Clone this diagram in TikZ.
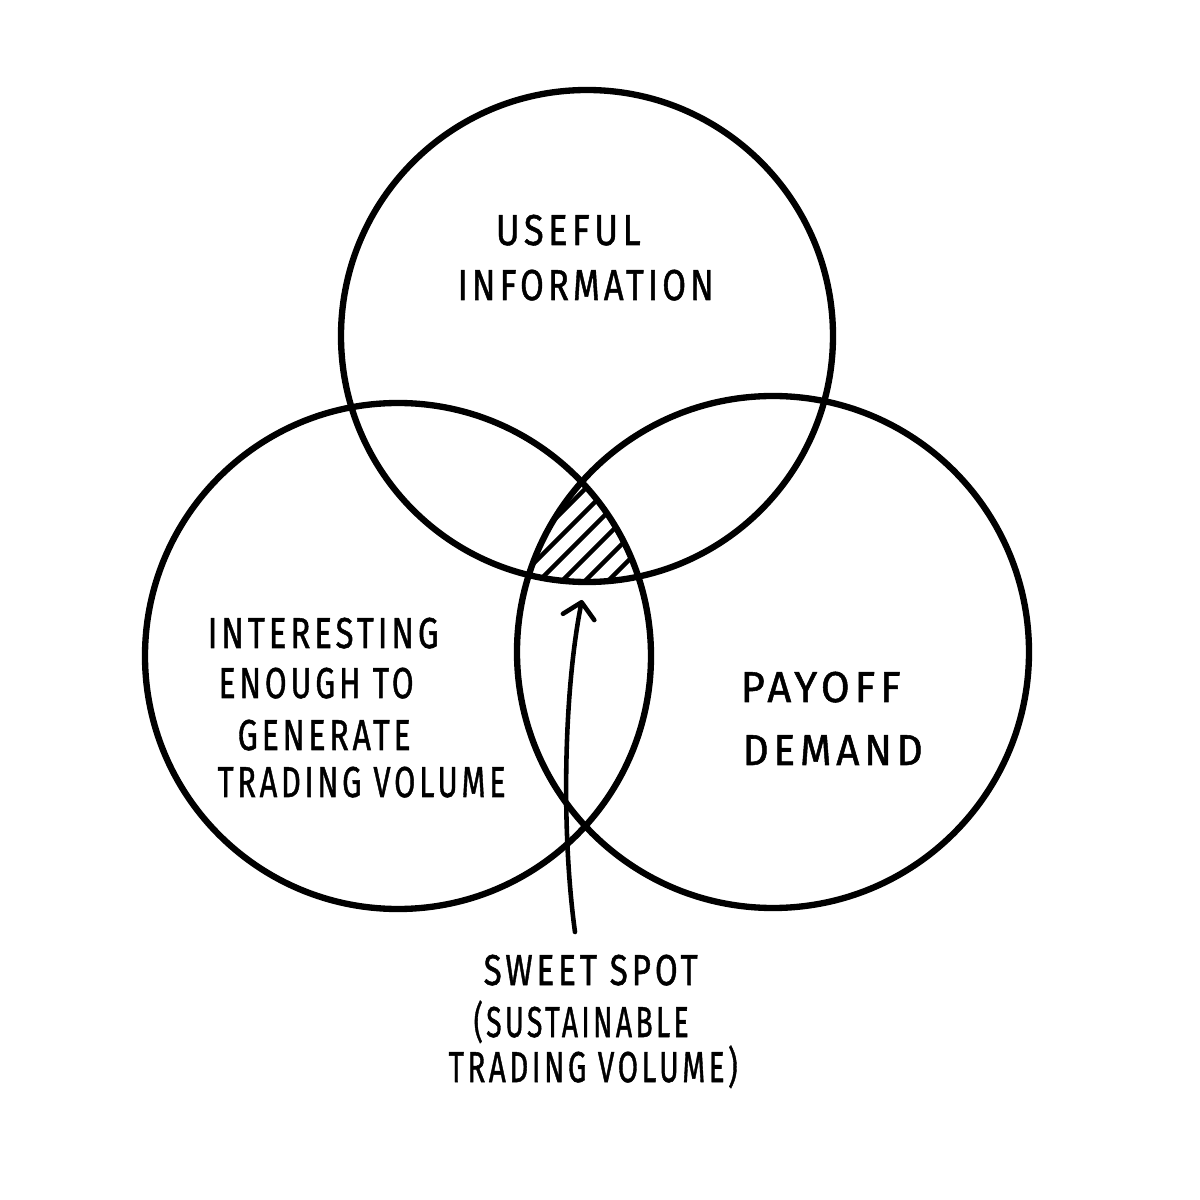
\documentclass[tikz,border=0pt]{standalone}
\usepackage{fontspec}
\usepackage{graphicx}
\usetikzlibrary{arrows.meta}
\newfontfamily\handfont{Fira Sans}[LetterSpace=12.0,FakeBold=1.2]
\newcommand{\fitx}[2]{\resizebox{#1}{\height}{#2}}
\begin{document}
\begin{tikzpicture}[
  ring/.style={line width=1.8pt},
  hatchline/.style={line width=1.3pt, line cap=round},
  pointer/.style={line width=1.3pt, line cap=round, line join=round,
    -{Straight Barb[length=1.5mm,width=3.2mm,line width=1.3pt,round]}},
  lbl/.style={font=\fontsize{12.3}{14}\selectfont\handfont, inner sep=0pt, anchor=base west}
]
\fill[white] (0,0) rectangle (12,12);
\useasboundingbox (0,0) rectangle (12,12);

% circles
\draw[ring] (5.87,8.64) circle (2.46);
\draw[ring] (3.98,5.44) circle (2.53);
\draw[ring] (7.73,5.48) circle (2.56);

% hatching of the triple intersection
\begin{scope}
  \clip (5.87,8.64) circle (2.46);
  \clip (3.98,5.44) circle (2.53);
  \clip (7.73,5.48) circle (2.56);
  \foreach \c in {-0.12,0.11,...,1.9}
    \draw[hatchline] (5.0,5.0+\c) -- (6.8,6.8+\c);
\end{scope}

% labels
\node[lbl] (useful) at (4.95,9.55) {\fitx{1.45cm}{USEFUL}};
\node[lbl] (information) at (4.57,9.00) {\fitx{2.56cm}{INFORMATION}};

\node[lbl] (interesting) at (2.07,5.52) {\fitx{2.31cm}{INTERESTING}};
\node[lbl] (enough) at (2.18,5.02) {\fitx{1.95cm}{ENOUGH TO}};
\node[lbl] (generate) at (2.37,4.50) {\fitx{1.73cm}{GENERATE}};
\node[lbl] (trading) at (2.17,4.03) {\fitx{2.88cm}{TRADING VOLUME}};

\node[lbl] (payoff) at (7.40,4.98) {\fitx{1.60cm}{PAYOFF}};
\node[lbl] (demand) at (7.42,4.35) {\fitx{1.80cm}{DEMAND}};

\node[lbl] (sweet) at (4.83,2.15) {\fitx{2.14cm}{SWEET SPOT}};
\node[lbl] (sustain) at (4.73,1.63) {\fitx{2.15cm}{(SUSTAINABLE}};
\node[lbl] (volume) at (4.48,1.18) {\fitx{2.89cm}{TRADING VOLUME)}};

% arrow
\coordinate (arrowstart) at (5.75,2.68);
\coordinate (arrowtip) at (5.82,6.00);
\draw[pointer] (arrowstart) .. controls (5.61,3.70) and (5.64,5.10) .. (arrowtip);
\end{tikzpicture}
\end{document}
